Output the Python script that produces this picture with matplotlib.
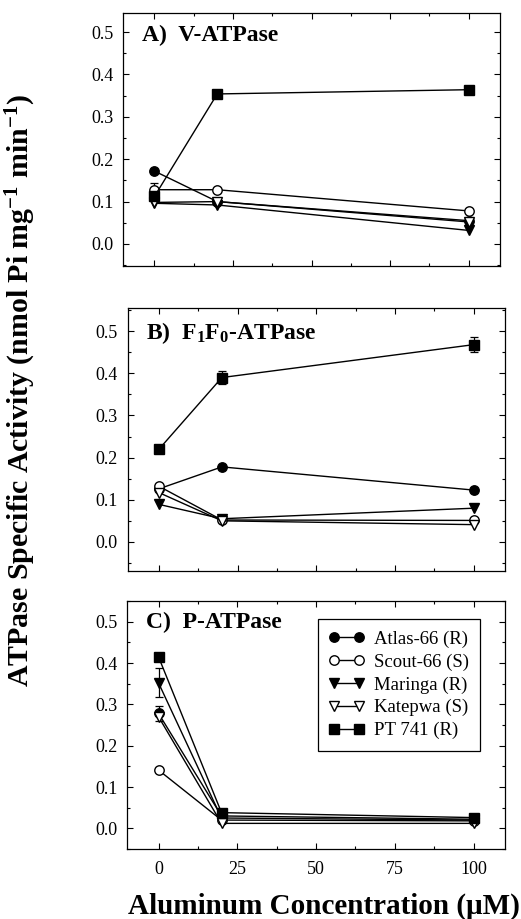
import matplotlib
matplotlib.use("Agg")
import matplotlib.pyplot as plt
from matplotlib.ticker import MultipleLocator, FormatStrFormatter

plt.rcParams['font.family'] = ['Liberation Serif', 'DejaVu Serif']
plt.rcParams['mathtext.fontset'] = 'custom'
plt.rcParams['mathtext.rm'] = 'Liberation Serif'
plt.rcParams['mathtext.bf'] = 'Liberation Serif:bold'
plt.rcParams['mathtext.default'] = 'bf'

al_conc = [0, 20, 100]
cultivars = ["Atlas-66 (R)", "Scout-66 (S)", "Maringa (R)", "Katepwa (S)", "PT 741 (R)"]

# Panel A: V-ATPase
v_atlas = [0.172, 0.100, 0.055]
v_scout = [0.128, 0.128, 0.078]
v_maringa = [0.096, 0.092, 0.032]
v_katepwa = [0.098, 0.100, 0.052]
v_pt741 = [0.112, 0.354, 0.364]
v_err_scout = [0.015, 0.0, 0.0]

# Panel B: F1F0-ATPase
f_atlas = [0.126, 0.178, 0.123]
f_scout = [0.132, 0.052, 0.051]
f_maringa = [0.089, 0.055, 0.080]
f_katepwa = [0.117, 0.050, 0.041]
f_pt741 = [0.220, 0.390, 0.468]
f_err_pt741 = [0.0, 0.016, 0.018]

# Panel C: P-ATPase
p_atlas = [0.278, 0.030, 0.022]
p_scout = [0.141, 0.020, 0.018]
p_maringa = [0.352, 0.025, 0.020]
p_katepwa = [0.270, 0.012, 0.012]
p_pt741 = [0.415, 0.038, 0.026]
p_err_atlas = [0.018, 0.0, 0.0]
p_err_maringa = [0.035, 0.0, 0.0]

panel_titles = ["A)  V-ATPase", "B)  F$_{1}$F$_{0}$-ATPase", "C)  P-ATPase"]
yticks = [0.0, 0.1, 0.2, 0.3, 0.4, 0.5]
xticks = [0, 25, 50, 75, 100]

styles = [
    dict(marker='o', mfc='black'),
    dict(marker='o', mfc='white'),
    dict(marker='v', mfc='black'),
    dict(marker='v', mfc='white'),
    dict(marker='s', mfc='black'),
]

fig = plt.figure(figsize=(5.21, 9.19), dpi=100)
W, H = 521, 919
boxes = [(123, 13, 500, 266), (127.5, 308, 505, 571), (127, 601, 505, 849)]
ylims = [(-0.052, 0.545), (-0.069, 0.555), (-0.05, 0.55)]

panels = [
    [v_atlas, v_scout, v_maringa, v_katepwa, v_pt741],
    [f_atlas, f_scout, f_maringa, f_katepwa, f_pt741],
    [p_atlas, p_scout, p_maringa, p_katepwa, p_pt741],
]
errs = [
    {1: v_err_scout},
    {4: f_err_pt741},
    {0: p_err_atlas, 2: p_err_maringa},
]

axes = []
for i, (x0, y0, x1, y1) in enumerate(boxes):
    ax = fig.add_axes([x0 / W, 1 - y1 / H, (x1 - x0) / W, (y1 - y0) / H])
    axes.append(ax)
    for j, series in enumerate(panels[i]):
        st = styles[j]
        yerr = errs[i].get(j)
        if yerr is not None:
            ax.errorbar(al_conc, series, yerr=yerr, fmt='none', ecolor='black',
                        elinewidth=0.9, capsize=3, capthick=0.9, zorder=2)
        ax.plot(al_conc, series, color='black', lw=1.0, marker=st['marker'],
                mfc=st['mfc'], mec='black', mew=1.0, ms=6.8, label=cultivars[j], zorder=3)
    ax.set_xlim(-10, 110)
    ax.set_ylim(*ylims[i])
    ax.set_xticks(xticks)
    ax.set_yticks(yticks)
    ax.xaxis.set_minor_locator(MultipleLocator(12.5))
    ax.yaxis.set_minor_locator(MultipleLocator(0.05))
    ax.yaxis.set_major_formatter(FormatStrFormatter('%.1f'))
    ax.tick_params(which='both', direction='in', top=True, right=True, labelsize=13, width=0.8)
    ax.tick_params(which='major', length=4)
    ax.tick_params(which='minor', length=2.5)
    ax.tick_params(axis='y', which='major', pad=7)
    ax.tick_params(axis='x', which='major', pad=9)
    for s in ax.spines.values():
        s.set_linewidth(0.9)
    if i < 2:
        ax.tick_params(labelbottom=False)
    ax.text(0.05, 0.955, panel_titles[i], transform=ax.transAxes, fontsize=17,
            fontweight='bold', va='top', ha='left')

leg = axes[2].legend(loc='upper right', bbox_to_anchor=(0.934, 0.927), borderaxespad=0,
                     numpoints=2, fancybox=False, edgecolor='black', fontsize=13.5,
                     handlelength=1.9, borderpad=0.6, labelspacing=0.3, handletextpad=0.5,
                     framealpha=1)
leg.get_frame().set_linewidth(0.9)

fig.text(324 / W, 1 - 906 / H, "Aluminum Concentration (\u03bcM)", ha='center', va='center',
         fontsize=21, fontweight='bold')
fig.text(21 / W, 1 - 390 / H, "ATPase Specific Activity (nmol Pi mg$^{-1}$ min$^{-1}$)",
         ha='center', va='center', rotation=90, fontsize=21.5, fontweight='bold')

fig.savefig("out.png", dpi=100)
